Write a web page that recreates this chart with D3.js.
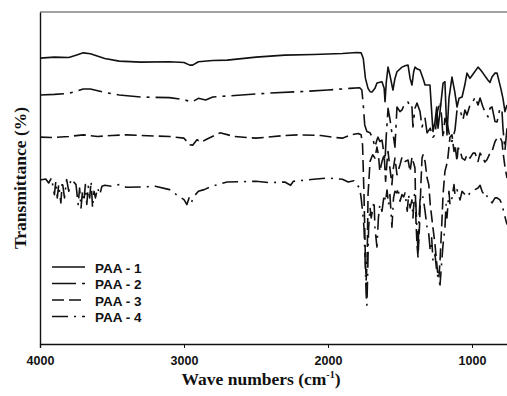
<!DOCTYPE html>
<html><head><meta charset="utf-8">
<script src="https://cdn.jsdelivr.net/npm/d3@7"></script>
<style>body{margin:0;background:#fff}svg{display:block}</style>
</head><body>
<script>
const xTicks = [4000, 3000, 2000, 1000];
const seriesNames = ["PAA - 1", "PAA - 2", "PAA - 3", "PAA - 4"];

const paa1 = [[4000,86.1],[3900,86.4],[3800,86.3],[3750,87],[3700,87.7],[3650,87.4],[3550,86],[3450,85.2],[3300,84.9],[3100,85],[3000,84.8],[2960,84],[2940,84],[2900,85],[2800,85.4],[2700,85.5],[2500,86.4],[2300,87],[2100,87.2],[1900,87.5],[1800,87.8],[1770,87.7],[1755,86],[1740,80],[1722,77],[1708,76],[1694,75.9],[1674,77],[1660,78.6],[1625,79],[1610,77],[1604,73],[1595,79],[1583,83.4],[1570,81],[1549,76.5],[1535,80],[1521,82],[1486,83.4],[1465,83.8],[1444,84],[1430,80],[1417,78],[1405,82],[1396,83.4],[1380,82.8],[1361,82.5],[1340,80],[1326,78],[1292,78],[1280,70],[1271,64],[1257,67],[1245,71.4],[1236,65],[1222,70],[1201,78.6],[1188,79],[1174,63],[1160,74],[1139,80.4],[1120,76],[1104,71.4],[1090,74],[1069,74.4],[1050,78],[1035,81.6],[1014,80],[990,81.5],[958,83.4],[940,82.5],[924,81.6],[890,79.5],[875,78.8],[861,80.4],[840,81.6],[826,81.6],[800,77],[785,74],[771,70],[757,72]];

const paa2 = [[4000,75],[3900,75.2],[3800,75.5],[3700,76.8],[3650,76.8],[3550,75.8],[3450,75],[3300,74.4],[3100,74.2],[3000,73.6],[2960,73],[2940,73],[2900,74],[2850,73.5],[2800,74.4],[2600,75],[2400,75.6],[2200,76],[2000,76.5],[1850,77],[1780,77.2],[1765,76.5],[1755,72],[1745,66],[1730,64],[1708,63.6],[1690,62],[1674,59.3],[1660,61.5],[1653,62.3],[1640,61],[1625,61.4],[1610,57],[1604,55.4],[1595,63],[1583,71],[1569,67.5],[1556,63.5],[1549,63.6],[1535,59.3],[1521,71.4],[1500,70],[1486,70.5],[1465,72.6],[1444,72.9],[1430,71],[1417,71.4],[1410,65.4],[1396,71],[1382,72.6],[1361,70],[1347,65.4],[1326,68],[1312,63.6],[1290,65],[1271,62.3],[1257,63],[1240,70],[1222,73],[1210,68],[1201,62],[1188,68],[1170,66],[1153,62],[1139,61],[1118,64.5],[1104,70.5],[1083,70.5],[1063,67.5],[1049,70.5],[1035,69],[1014,72],[993,73],[979,74.4],[958,72],[944,74.1],[924,71.4],[910,70],[889,68.4],[875,71],[861,71.4],[840,67],[826,66.9],[806,71],[792,70.5],[785,65],[771,58.4],[757,65]];

const paa3 = [[4000,62.3],[3900,62.2],[3800,62.5],[3700,63],[3600,62.5],[3500,62.8],[3400,63],[3300,62.8],[3100,62.5],[3000,62],[2960,60],[2940,59.9],[2910,61.5],[2880,60.8],[2850,61.5],[2750,63.6],[2650,62.5],[2500,62],[2300,62.8],[2200,63],[2050,62.8],[1950,62.2],[1900,62],[1840,63],[1790,63.4],[1770,63],[1760,60],[1750,45],[1740,25],[1735,19.3],[1728,25],[1722,45],[1708,55],[1690,57],[1674,56],[1660,59.3],[1650,57],[1640,52],[1625,55],[1610,57],[1600,49],[1590,55],[1583,58],[1570,53],[1556,48],[1549,52],[1535,56],[1521,51],[1500,54],[1486,56.3],[1465,55],[1444,55.4],[1430,52],[1417,56.3],[1396,53],[1390,38],[1382,30],[1375,26.2],[1365,35],[1355,48],[1347,56],[1340,57],[1326,55],[1312,50],[1300,48],[1290,42],[1271,35],[1257,30],[1240,22],[1230,20],[1222,25],[1210,36],[1201,45],[1188,52],[1170,55],[1153,62.3],[1139,63],[1125,58],[1118,60],[1104,55],[1097,59],[1083,58.4],[1069,56],[1049,55.4],[1035,57],[1014,56],[993,57.5],[979,57.5],[958,55],[944,57.5],[924,56],[910,54.8],[896,55.5],[875,57.5],[861,58],[840,61],[826,62],[806,62.3],[792,61],[785,58],[771,53.3],[757,50]];

const paa4 = [[4000,49.4],[3960,49.7],[3940,48.5],[3920,50],[3900,45],[3890,49],[3880,44],[3870,48],[3855,42.5],[3845,49],[3830,44],[3815,49.5],[3800,46],[3785,49.7],[3770,49],[3750,48],[3735,42],[3725,47],[3715,41],[3705,46],[3695,43],[3685,48],[3675,42],[3665,47.5],[3655,44],[3645,49],[3635,41],[3625,46],[3615,44],[3600,47],[3585,45],[3570,47.5],[3550,47.8],[3500,47.5],[3450,48],[3400,47.2],[3300,47.3],[3200,47.5],[3100,46.5],[3050,44.9],[3000,43.5],[2980,42],[2965,44],[2950,42.5],[2930,44.5],[2900,46],[2860,46.5],[2820,47.3],[2750,48.2],[2700,48.8],[2600,48.9],[2500,49],[2400,48.6],[2300,48.8],[2260,47.8],[2240,49],[2100,49.6],[2000,50],[1900,49.6],[1860,48.8],[1820,49.2],[1800,48],[1780,47],[1770,44],[1760,40],[1750,35],[1742,25],[1735,15],[1730,11.7],[1725,20],[1718,35],[1708,41],[1700,38],[1694,39.5],[1680,43],[1674,35],[1660,29.2],[1650,38],[1640,42],[1625,40],[1610,45],[1600,43],[1590,46.4],[1580,42],[1570,45],[1556,35.2],[1545,44],[1535,46],[1521,45.5],[1514,47],[1500,43],[1486,45],[1475,44.3],[1465,45.5],[1450,40],[1440,45],[1430,41],[1417,43.4],[1410,38],[1400,45],[1390,42],[1380,33],[1375,27.4],[1368,38],[1360,44],[1347,43.4],[1340,44.3],[1326,40],[1312,35],[1300,33],[1290,28],[1280,32],[1271,25],[1257,27],[1245,22],[1236,20],[1222,17.8],[1215,22],[1201,30],[1188,35],[1180,42],[1174,38],[1160,46],[1153,42],[1139,44],[1125,48],[1118,45],[1104,46.5],[1083,43.4],[1069,46],[1049,45],[1035,44.3],[1014,45.5],[993,46],[979,46.5],[958,47],[944,47.8],[930,46],[924,45.5],[910,46],[896,44.5],[875,43.5],[861,42.5],[840,44],[826,44],[806,43.4],[792,42],[771,38.3],[757,36]];

const seriesData = [paa1, paa2, paa3, paa4];
const dashes = [null, "24,6,3,6", "12,5", "16,6,2,6"];

const W = 507, H = 396;
const svg = d3.select("body").append("svg").attr("width", W).attr("height", H);

const x = d3.scaleLinear().domain([4000, 750]).range([40, 508]);
const y = d3.scaleLinear().domain([0, 100]).range([344, 12]);

svg.append("defs").append("clipPath").attr("id", "clip")
  .append("rect").attr("x", 40).attr("y", 12).attr("width", 470).attr("height", 332);

const line = d3.line().x(d => x(d[0])).y(d => y(d[1]));

svg.append("g").attr("clip-path", "url(#clip)")
  .selectAll("path").data(seriesData).join("path")
  .attr("d", line)
  .attr("fill", "none")
  .attr("stroke", "#111")
  .attr("stroke-width", 1.6)
  .attr("stroke-linejoin", "round")
  .attr("stroke-dasharray", (d, i) => dashes[i]);

// frame
svg.append("line").attr("x1", 40).attr("x2", 507).attr("y1", 12).attr("y2", 12)
  .attr("stroke", "#444").attr("stroke-width", 1.2);

const xAxis = svg.append("g").attr("transform", "translate(0,344)")
  .call(d3.axisBottom(x).tickValues(xTicks).tickSize(4).tickPadding(8).tickFormat(d3.format("d")));
xAxis.select(".domain").attr("stroke", "#111").attr("stroke-width", 1.4);
xAxis.selectAll(".tick line").attr("stroke", "#111");
xAxis.selectAll("text").attr("font-family", "Liberation Sans, Arial, sans-serif")
  .attr("font-weight", "bold").attr("font-size", 12.5).attr("fill", "#111");

const yAxis = svg.append("g").attr("transform", "translate(40,0)")
  .call(d3.axisLeft(y).tickValues([]).tickSize(0));
yAxis.select(".domain").attr("stroke", "#111").attr("stroke-width", 1.4);

// axis titles
const xt = svg.append("text").attr("x", 261).attr("y", 385).attr("text-anchor", "middle")
  .attr("font-family", "Liberation Serif, Times New Roman, serif").attr("font-weight", "bold")
  .attr("font-size", 17.5).attr("fill", "#111");
xt.append("tspan").text("Wave numbers (cm");
xt.append("tspan").attr("dy", -7).attr("font-size", 10).text("-1");
xt.append("tspan").attr("dy", 7).text(")");

svg.append("text").attr("transform", "translate(26,178) rotate(-90)").attr("text-anchor", "middle")
  .attr("font-family", "Liberation Serif, Times New Roman, serif").attr("font-weight", "bold")
  .attr("font-size", 17.5).attr("fill", "#111").text("Transmittance (%)");

// legend
const leg = svg.append("g");
seriesNames.forEach((name, i) => {
  const yy = 268 + i * 16.5;
  leg.append("line").attr("x1", 52).attr("x2", 85).attr("y1", yy - 1).attr("y2", yy - 1)
    .attr("stroke", "#111").attr("stroke-width", 1.4).attr("stroke-dasharray", dashes[i]);
  leg.append("text").attr("x", 95).attr("y", yy + 4.5)
    .attr("font-family", "Liberation Sans, Arial, sans-serif").attr("font-weight", "bold")
    .attr("font-size", 13.5).attr("fill", "#111").text(name);
});
</script>
</body></html>
